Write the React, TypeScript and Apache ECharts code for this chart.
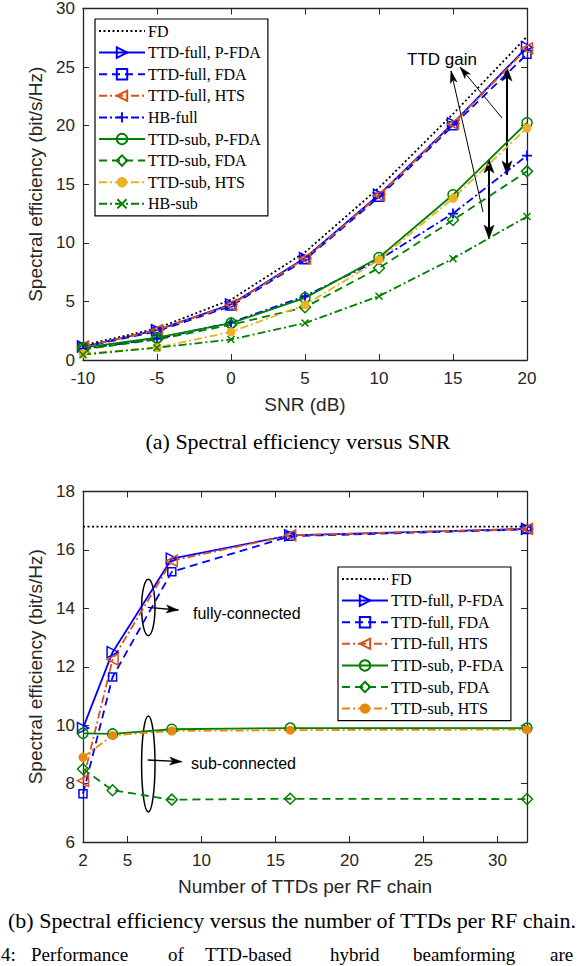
import React, { useEffect, useRef } from "react";
import * as echarts from "echarts";

// ---------- data: (a) spectral efficiency vs SNR ----------
const snrValues = [-10, -5, 0, 5, 10, 15, 20];
const aFD = [1.25, 2.7, 5.15, 9.2, 14.7, 21.0, 27.6];
const aFullPFDA = [1.15, 2.55, 4.75, 8.7, 14.1, 20.2, 26.7];
const aFullFDA = [1.1, 2.45, 4.6, 8.55, 13.9, 20.0, 26.1];
const aFullHTS = [1.15, 2.55, 4.7, 8.65, 14.05, 20.15, 26.6];
const aHBFull = [0.95, 1.8, 3.2, 5.45, 8.55, 12.5, 17.45];
const aSubPFDA = [1.05, 1.9, 3.15, 5.3, 8.75, 14.1, 20.25];
const aSubFDA = [0.9, 1.75, 3.0, 4.5, 7.85, 11.95, 16.1];
const aSubHTS = [0.55, 1.05, 2.4, 4.7, 8.55, 13.8, 19.8];
const aHBSub = [0.45, 1.05, 1.75, 3.15, 5.45, 8.65, 12.25];

// ---------- data: (b) spectral efficiency vs number of TTDs ----------
const ttdValues = [2, 4, 8, 16, 32];
const bFD = [16.8, 16.8, 16.8, 16.8, 16.8];
const bFullPFDA = [9.9, 12.5, 15.7, 16.5, 16.72];
const bFullFDA = [7.65, 11.65, 15.25, 16.47, 16.7];
const bFullHTS = [8.1, 12.25, 15.63, 16.5, 16.72];
const bSubPFDA = [9.72, 9.7, 9.86, 9.9, 9.9];
const bSubFDA = [8.5, 7.77, 7.45, 7.48, 7.47];
const bSubHTS = [8.9, 9.65, 9.8, 9.83, 9.85];

const bXLabels = [2, 5, 10, 15, 20, 25, 30];
const bXTicks = [5, 10, 15, 20, 25, 30];

const BLUE = "#0000FF";
const ORANGE = "#D95319";
const GREEN = "#008000";
const YELLOW = "#EDB120";
const ORANGE2 = "#E8890C";
const AX = "#262626";
const SANS = "'Liberation Sans', Arial, sans-serif";
const SERIF = "'Liberation Serif', 'Times New Roman', serif";

const triRight = "path://M0,0 L10,5 L0,10 Z";
const triLeft = "path://M10,0 L0,5 L10,10 Z";
const plusSym = "path://M4.1,0 H5.9 V4.1 H10 V5.9 H5.9 V10 H4.1 V5.9 H0 V4.1 H4.1 Z";
const crossSym = "path://M1.3,0 L5,3.7 L8.7,0 L10,1.3 L6.3,5 L10,8.7 L8.7,10 L5,6.3 L1.3,10 L0,8.7 L3.7,5 L0,1.3 Z";

const DOT = [2, 2.5];
const DASH = [8, 5];
const DASHDOT = [8, 3, 2, 3];

function mkSeries(name: string, xs: number[], ys: number[], color: string, dash: any, symbol: string, size: number, hollow: boolean) {
  return {
    name,
    type: "line",
    xAxisIndex: 0,
    yAxisIndex: 0,
    data: xs.map((x, i) => [x, ys[i]]),
    symbol,
    symbolSize: size,
    showSymbol: symbol !== "none",
    lineStyle: { color, width: 1.8, type: dash },
    itemStyle: hollow
      ? { color: "rgba(255,255,255,0)", borderColor: color, borderWidth: 1.5 }
      : { color, borderColor: color, borderWidth: 0 },
    emphasis: { disabled: true },
  };
}

function arrowHead(tx: number, ty: number, fx: number, fy: number, len: number, hw: number, back: number) {
  const dx = tx - fx;
  const dy = ty - fy;
  const L = Math.sqrt(dx * dx + dy * dy);
  const ux = dx / L;
  const uy = dy / L;
  const nx = -uy;
  const ny = ux;
  const bx = tx - ux * len;
  const by = ty - uy * len;
  const mx = tx - ux * (len - back);
  const my = ty - uy * (len - back);
  return {
    type: "polygon",
    shape: { points: [[tx, ty], [bx + nx * hw, by + ny * hw], [mx, my], [bx - nx * hw, by - ny * hw]] },
    style: { fill: "#000", stroke: "#000", lineWidth: 0.5 },
  };
}

function arrow(fx: number, fy: number, tx: number, ty: number, w: number, len: number, hw: number, both: boolean) {
  const els: any[] = [
    { type: "line", shape: { x1: fx, y1: fy, x2: tx, y2: ty }, style: { stroke: "#000", lineWidth: w } },
    arrowHead(tx, ty, fx, fy, len, hw, len * 0.25),
  ];
  if (both) els.push(arrowHead(fx, fy, tx, ty, len, hw, len * 0.25));
  return els;
}

function txt(text: string, x: number, y: number, size: number, family: string, align = "left") {
  return {
    type: "text",
    style: {
      text, x, y, fontSize: size, fontFamily: family, fill: "#000",
      align, verticalAlign: "middle", textAlign: align, textVerticalAlign: "middle",
    },
  };
}

function axes(xCfg: any, yCfg: any) {
  const tickStyle = { show: true, inside: true, length: 6, lineStyle: { color: AX, width: 1 } };
  const lineStyle = { show: true, onZero: false, lineStyle: { color: AX, width: 1.3 } };
  return {
    xAxis: [
      {
        type: "value", position: "bottom", gridIndex: 0, ...xCfg.base,
        axisLine: lineStyle, axisTick: { ...tickStyle, ...(xCfg.tick || {}) },
        axisLabel: { color: AX, fontSize: 17, fontFamily: SANS, margin: 10, ...(xCfg.label || {}) },
        splitLine: { show: false },
        name: xCfg.name, nameLocation: "middle", nameGap: 35,
        nameTextStyle: { color: AX, fontSize: 19, fontFamily: SANS },
      },
      {
        type: "value", position: "top", gridIndex: 0, ...xCfg.base,
        axisLine: lineStyle, axisTick: { ...tickStyle, ...(xCfg.tick || {}) },
        axisLabel: { show: false }, splitLine: { show: false },
      },
    ],
    yAxis: [
      {
        type: "value", position: "left", gridIndex: 0, ...yCfg,
        axisLine: lineStyle, axisTick: tickStyle,
        axisLabel: { color: AX, fontSize: 17, fontFamily: SANS, margin: 8 },
        splitLine: { show: false },
        name: "Spectral efficiency (bit/s/Hz)", nameLocation: "middle", nameGap: 31,
        nameTextStyle: { color: AX, fontSize: 19, fontFamily: SANS },
      },
      {
        type: "value", position: "right", gridIndex: 0, ...yCfg,
        axisLine: lineStyle, axisTick: tickStyle,
        axisLabel: { show: false }, splitLine: { show: false },
      },
    ],
  };
}

function legendCfg(left: number, top: number, names: string[]) {
  return {
    show: true,
    orient: "vertical",
    left, top,
    data: names.map((n) =>
      n === "FD"
        ? { name: n, itemStyle: { color: "rgba(0,0,0,0)", borderColor: "rgba(0,0,0,0)", borderWidth: 0 } }
        : { name: n }
    ),
    itemWidth: 46,
    itemHeight: 13,
    itemGap: 5.6,
    padding: [4, 7, 4, 3],
    backgroundColor: "#fff",
    borderColor: "#000",
    borderWidth: 1.2,
    borderRadius: 0,
    selectedMode: false,
    textStyle: { fontSize: 16, fontFamily: SERIF, color: "#000", lineHeight: 13, padding: [0, 0, 0, -2] },
  };
}

function optionA() {
  const series = [
    mkSeries("FD", snrValues, aFD, "#000", DOT, "none", 0, false),
    mkSeries("TTD-full, P-FDA", snrValues, aFullPFDA, BLUE, "solid", triRight, 11, true),
    mkSeries("TTD-full, FDA", snrValues, aFullFDA, BLUE, DASH, "rect", 8, true),
    mkSeries("TTD-full, HTS", snrValues, aFullHTS, ORANGE, DASHDOT, triLeft, 11, true),
    mkSeries("HB-full", snrValues, aHBFull, BLUE, DASHDOT, plusSym, 10, false),
    mkSeries("TTD-sub, P-FDA", snrValues, aSubPFDA, GREEN, "solid", "circle", 10, true),
    mkSeries("TTD-sub, FDA", snrValues, aSubFDA, GREEN, DASH, "diamond", 11, true),
    mkSeries("TTD-sub, HTS", snrValues, aSubHTS, YELLOW, DASHDOT, "circle", 9, false),
    mkSeries("HB-sub", snrValues, aHBSub, GREEN, DASHDOT, crossSym, 8, false),
  ];
  const graphics: any[] = [
    txt("TTD gain", 407, 59, 17, SANS),
    ...arrow(502, 118, 460, 67, 1, 12, 3.5, false),
    ...arrow(483, 212, 451, 71, 1, 12, 3.5, false),
    ...arrow(507, 67, 507, 175, 2, 14, 5, true),
    ...arrow(489, 159, 489, 239, 2, 14, 5, true),
    txt("(a) Spectral efficiency versus SNR", 298, 441, 22, SERIF, "center"),
  ];
  return {
    animation: false,
    backgroundColor: "#fff",
    grid: [{ left: 83, top: 7, width: 444, height: 353, show: false }],
    ...axes(
      { base: { min: -10, max: 20, interval: 5 }, name: "SNR (dB)" },
      { min: 0, max: 30, interval: 5 }
    ),
    legend: legendCfg(95, 19, series.map((s) => s.name)),
    series,
    graphic: { elements: graphics },
  };
}

function optionB() {
  const series = [
    mkSeries("FD", ttdValues, bFD, "#000", DOT, "none", 0, false),
    mkSeries("TTD-full, P-FDA", ttdValues, bFullPFDA, BLUE, "solid", triRight, 11, true),
    mkSeries("TTD-full, FDA", ttdValues, bFullFDA, BLUE, DASH, "rect", 8, true),
    mkSeries("TTD-full, HTS", ttdValues, bFullHTS, ORANGE, DASHDOT, triLeft, 11, true),
    mkSeries("TTD-sub, P-FDA", ttdValues, bSubPFDA, GREEN, "solid", "circle", 10, true),
    mkSeries("TTD-sub, FDA", ttdValues, bSubFDA, GREEN, DASH, "diamond", 11, true),
    mkSeries("TTD-sub, HTS", ttdValues, bSubHTS, ORANGE2, DASHDOT, "circle", 9, false),
  ];
  const ell = (cx: number, cy: number, rx: number, ry: number) => ({
    type: "ellipse",
    shape: { cx, cy, rx, ry },
    style: { fill: "none", stroke: "#000", lineWidth: 1.5 },
  });
  const F = 19;
  const Y = 471;
  const graphics: any[] = [
    ell(148.3, 124.5, 6.7, 28.2),
    ...arrow(147.7, 124.3, 178.3, 127, 1.3, 12, 4, false),
    txt("fully-connected", 193, 130, 16, SANS),
    ell(148.3, 281, 6.7, 48),
    ...arrow(147.7, 277, 181.7, 278.7, 1.3, 12, 4, false),
    txt("sub-connected", 191, 280.5, 16, SANS),
    txt("(b) Spectral efficiency versus the number of TTDs per RF chain.", 292, 437, 22, SERIF, "center"),
    txt("4:", 1, Y, F, SERIF),
    txt("Performance", 31, Y, F, SERIF),
    txt("of", 168, Y, F, SERIF),
    txt("TTD-based", 205, Y, F, SERIF),
    txt("hybrid", 330, Y, F, SERIF),
    txt("beamforming", 413, Y, F, SERIF),
    txt("are", 550, Y, F, SERIF),
  ];
  return {
    animation: false,
    backgroundColor: "#fff",
    grid: [{ left: 83, top: 7, width: 444, height: 352, show: false }],
    ...axes(
      {
        base: { min: 2, max: 32 },
        name: "Number of TTDs per RF chain",
        tick: { customValues: bXTicks },
        label: { customValues: bXLabels },
      },
      { min: 6, max: 18, interval: 2 }
    ),
    legend: legendCfg(338, 84, series.map((s) => s.name)),
    series,
    graphic: { elements: graphics },
  };
}

function Chart({ top, height, option }: { top: number; height: number; option: any }) {
  const ref = useRef<HTMLDivElement>(null);
  useEffect(() => {
    if (!ref.current) return;
    const chart = echarts.init(ref.current, undefined, { renderer: "svg" });
    chart.setOption(option);
    return () => chart.dispose();
  }, []);
  return (
    <div
      ref={ref}
      style={{ position: "absolute", left: 0, top, width: 580, height }}
    />
  );
}

export default function App() {
  return (
    <div style={{ position: "absolute", left: 0, top: 0, width: 580, height: 966, background: "#fff", overflow: "hidden" }}>
      <Chart top={0} height={483} option={optionA()} />
      <Chart top={483} height={483} option={optionB()} />
    </div>
  );
}
